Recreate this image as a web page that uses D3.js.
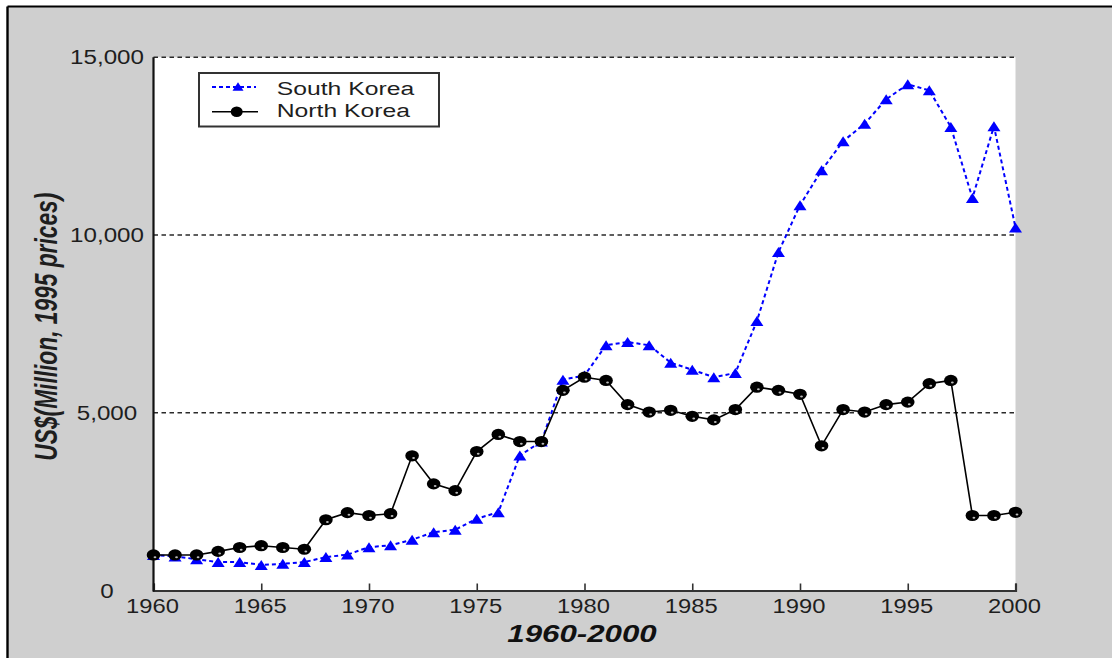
<!DOCTYPE html>
<html>
<head>
<meta charset="utf-8">
<script src="https://cdn.jsdelivr.net/npm/d3@7"></script>
<style>
  html, body { margin: 0; padding: 0; background: #ffffff; }
  svg { display: block; }
  text { font-family: "Liberation Sans", Arial, sans-serif; fill: #1e1e1e; }
</style>
</head>
<body>
<svg id="chart" width="1112" height="658"></svg>
<script>
// ---- data ----
const years = d3.range(1960, 2001);
const southKorea = [1000, 960, 880, 800, 800, 720, 750, 800, 940, 1010,
  1220, 1270, 1430, 1640, 1710, 2020, 2200, 3800, 4190, 5930,
  6050, 6900, 6990, 6900, 6410, 6210, 6000, 6120, 7580, 9520,
  10840, 11820, 12640, 13130, 13820, 14240, 14070, 13040, 11040, 13060,
  10210];
const northKorea = [1000, 1000, 1000, 1100, 1210, 1260, 1210, 1160, 1990, 2190,
  2110, 2160, 3790, 3000, 2810, 3910, 4390, 4190, 4190, 5630,
  6000, 5910, 5230, 5020, 5070, 4900, 4800, 5090, 5720, 5630,
  5520, 4070, 5090, 5020, 5230, 5300, 5820, 5910, 2110, 2110,
  2200];
const seriesNames = ["South Korea", "North Korea"];
const yTicks = [0, 5000, 10000, 15000];
const yTickLabels = ["0", "5,000", "10,000", "15,000"];
const xTicks = [1960, 1965, 1970, 1975, 1980, 1985, 1990, 1995, 2000];
const yTitle = "US$(Million, 1995 prices)";
const xTitle = "1960-2000";

// ---- layout ----
const svg = d3.select("#chart");
const W = 1112, H = 658;
const x = d3.scaleLinear().domain([1960, 2000]).range([153.5, 1015.5]);
const y = d3.scaleLinear().domain([0, 15000]).range([590.5, 57.3]);

// frame background
svg.append("rect").attr("x", 0).attr("y", 0).attr("width", W).attr("height", H).attr("fill", "#ffffff");
svg.append("rect").attr("x", 7.5).attr("y", 6.5).attr("width", W).attr("height", H).attr("fill", "#cfcfcf");
svg.append("line").attr("x1", 7.5).attr("x2", W).attr("y1", 6.5).attr("y2", 6.5)
  .attr("stroke", "#000").attr("stroke-width", 2.2);
svg.append("line").attr("x1", 7.5).attr("x2", 7.5).attr("y1", 6.5).attr("y2", H)
  .attr("stroke", "#000").attr("stroke-width", 2.4);

// plot area
svg.append("rect")
  .attr("x", x(1960)).attr("y", y(15000))
  .attr("width", x(2000) - x(1960)).attr("height", y(0) - y(15000))
  .attr("fill", "#ffffff");

// grid lines
svg.append("g").selectAll("line").data(yTicks.filter(d => d > 0)).join("line")
  .attr("x1", x(1960)).attr("x2", x(2000))
  .attr("y1", d => y(d)).attr("y2", d => y(d))
  .attr("stroke", "#2a2a2a").attr("stroke-width", 1.4)
  .attr("stroke-dasharray", "4.5,3.5");

// x axis
const xAxis = d3.axisBottom(x).tickValues(xTicks).tickSize(-7).tickFormat("");
const gx = svg.append("g").attr("transform", `translate(0,${y(0)})`).call(xAxis);
gx.select(".domain").attr("stroke", "#333").attr("stroke-width", 2.2);
gx.selectAll(".tick line").attr("stroke", "#333").attr("stroke-width", 1.6);

svg.append("g").selectAll("text").data(xTicks).join("text")
  .attr("transform", d => `translate(${x(d) - 1},613.3) scale(1.22,1)`)
  .attr("text-anchor", "middle")
  .style("font-size", "19.5px")
  .text(d => d);

// y axis line
svg.append("line")
  .attr("x1", x(1960)).attr("x2", x(1960))
  .attr("y1", y(15000)).attr("y2", y(0) + 1)
  .attr("stroke", "#111").attr("stroke-width", 2.2);

svg.append("g").selectAll("text").data(yTicks).join("text")
  .attr("transform", (d, i) => `translate(107,${y(d) + 7}) scale(1.24,1)`)
  .attr("text-anchor", "middle")
  .style("font-size", "19.5px")
  .text((d, i) => yTickLabels[i]);

// titles
svg.append("text")
  .attr("transform", "translate(57,326.7) rotate(-90) scale(1,1.5)")
  .attr("text-anchor", "middle")
  .attr("textLength", 268).attr("lengthAdjust", "spacingAndGlyphs")
  .style("font-size", "21px").style("font-weight", "bold").style("font-style", "italic")
  .text(yTitle);

svg.append("text")
  .attr("transform", "translate(582,641.5) scale(1.36,1)")
  .attr("text-anchor", "middle")
  .style("font-size", "23px").style("font-weight", "bold").style("font-style", "italic")
  .style("fill", "#111")
  .text(xTitle);

// series
const line = d3.line().x((d, i) => x(years[i])).y(d => y(d));
const triangle = (cx, cy, w, h) => `M${cx - w / 2},${cy + h / 2}L${cx},${cy - h / 2}L${cx + w / 2},${cy + h / 2}Z`;

svg.append("path").datum(southKorea).attr("d", line)
  .attr("fill", "none").attr("stroke", "#0000ff").attr("stroke-width", 2)
  .attr("stroke-dasharray", "4,3");
svg.append("g").selectAll("path").data(southKorea).join("path")
  .attr("d", (d, i) => triangle(x(years[i]), y(d), 13, 10))
  .attr("fill", "#0000ff");

svg.append("path").datum(northKorea).attr("d", line)
  .attr("fill", "none").attr("stroke", "#000").attr("stroke-width", 1.6);
const nk = svg.append("g").selectAll("g").data(northKorea).join("g")
  .attr("transform", (d, i) => `translate(${x(years[i])},${y(d)})`);
nk.append("ellipse").attr("rx", 6.8).attr("ry", 5.6).attr("fill", "#000");
nk.append("ellipse").attr("cx", 1.5).attr("cy", 2.2).attr("rx", 1.4).attr("ry", 1).attr("fill", "#bbb");

// legend
const lg = svg.append("g");
lg.append("rect").attr("x", 199).attr("y", 73).attr("width", 240).attr("height", 53.5)
  .attr("fill", "#ffffff").attr("stroke", "#333").attr("stroke-width", 2);
lg.append("line").attr("x1", 212).attr("x2", 256).attr("y1", 87).attr("y2", 87)
  .attr("stroke", "#0000ff").attr("stroke-width", 2).attr("stroke-dasharray", "4,3");
lg.append("path").attr("d", triangle(238, 86.5, 11, 8.5)).attr("fill", "#0000ff");
lg.append("line").attr("x1", 212).attr("x2", 258).attr("y1", 111.7).attr("y2", 111.7)
  .attr("stroke", "#000").attr("stroke-width", 1.6);
lg.append("ellipse").attr("cx", 236.7).attr("cy", 111.7).attr("rx", 6).attr("ry", 5.3).attr("fill", "#000");
lg.append("text").attr("transform", "translate(276.7,95) scale(1.33,1)")
  .style("font-size", "18.6px").text(seriesNames[0]);
lg.append("text").attr("transform", "translate(276.7,116.7) scale(1.33,1)")
  .style("font-size", "18.6px").text(seriesNames[1]);
</script>
</body>
</html>
